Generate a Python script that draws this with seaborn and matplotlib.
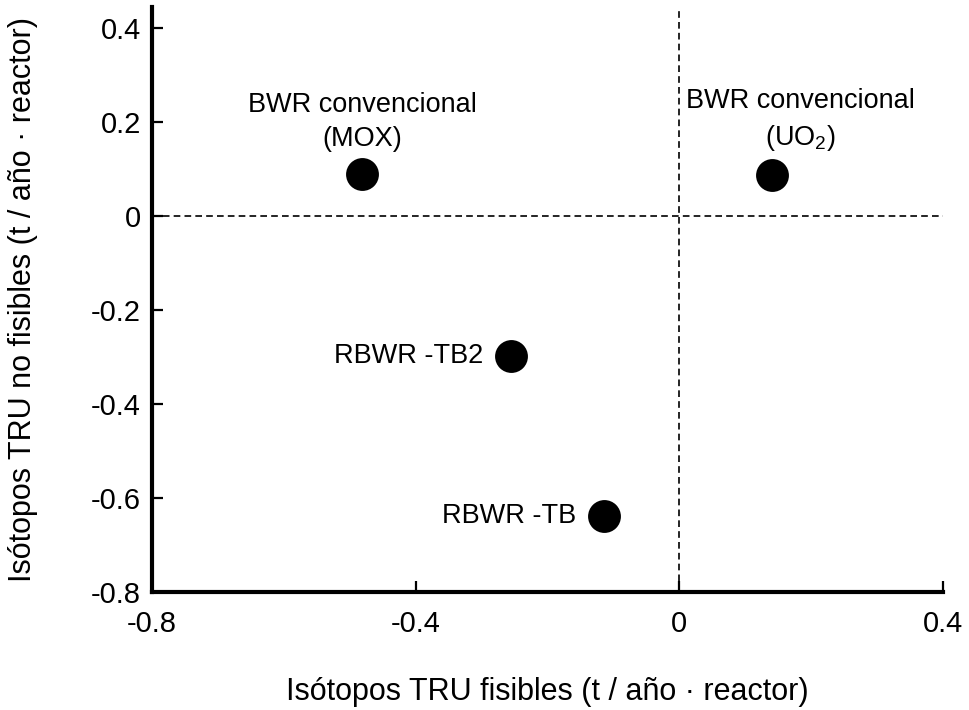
import matplotlib
matplotlib.use("Agg")
import matplotlib.pyplot as plt
import seaborn as sns
import pandas as pd

names = ["BWR convencional\n(MOX)", "BWR convencional\n(UO$_2$)", "RBWR -TB2", "RBWR -TB"]
fissile = [-0.481, 0.141, -0.255, -0.114]
nonfissile = [0.089, 0.088, -0.298, -0.638]
xticks = [-0.8, -0.4, 0.0, 0.4]
xticklabels = ["-0.8", "-0.4", "0", "0.4"]
yticks = [0.4, 0.2, 0.0, -0.2, -0.4, -0.6, -0.8]
yticklabels = ["0.4", "0.2", "0", "-0.2", "-0.4", "-0.6", "-0.8"]

df = pd.DataFrame({"name": names, "x": fissile, "y": nonfissile})

sns.set_style("white")
plt.rcParams["font.family"] = ["Liberation Sans", "DejaVu Sans"]
plt.rcParams["mathtext.fontset"] = "custom"
plt.rcParams["mathtext.rm"] = "Liberation Sans"
plt.rcParams["mathtext.it"] = "Liberation Sans:italic"
plt.rcParams["text.color"] = "black"
plt.rcParams["axes.labelcolor"] = "black"

fig = plt.figure(figsize=(9.69, 7.10), dpi=100)
ax = fig.add_axes([152/969, 118/710, (943-152)/969, (592-7)/710])

ax.axhline(0, color="black", lw=1.2, ls=(0, (4, 2.5)), zorder=1)
ax.axvline(0, color="black", lw=1.2, ls=(0, (4, 2.5)), zorder=1)

sns.scatterplot(data=df, x="x", y="y", ax=ax, s=560, color="black",
                edgecolor="black", linewidth=0, zorder=3, legend=False)

offsets = [((0, 16), "center", "bottom"), ((20, 16), "center", "bottom"),
           ((-20, 0), "right", "center"), ((-20, 0), "right", "center")]
for (n, x, y), (off, ha, va) in zip(zip(names, fissile, nonfissile), offsets):
    ax.annotate(n, (x, y), xytext=off, textcoords="offset points",
                ha=ha, va=va, fontsize=19.5, multialignment="center",
                linespacing=1.4, color="black")

ax.set_xlim(-0.8, 0.4)
ax.set_ylim(-0.8, 0.445)
ax.set_xticks(xticks)
ax.set_xticklabels(xticklabels)
ax.set_yticks(yticks)
ax.set_yticklabels(yticklabels)
ax.tick_params(axis="both", direction="in", length=8, width=1.6, labelsize=21,
               color="black", labelcolor="black", bottom=True, left=True)
ax.tick_params(axis="x", pad=13)
ax.tick_params(axis="y", pad=8)
for side in ["top", "right"]:
    ax.spines[side].set_visible(False)
for side in ["left", "bottom"]:
    ax.spines[side].set_color("black")
    ax.spines[side].set_linewidth(3)

ax.set_xlabel("Isótopos TRU fisibles (t / año · reactor)", fontsize=22, labelpad=28)
ax.set_ylabel("Isótopos TRU no fisibles (t / año · reactor)", fontsize=22, labelpad=38)

fig.savefig("out.png", dpi=100)
